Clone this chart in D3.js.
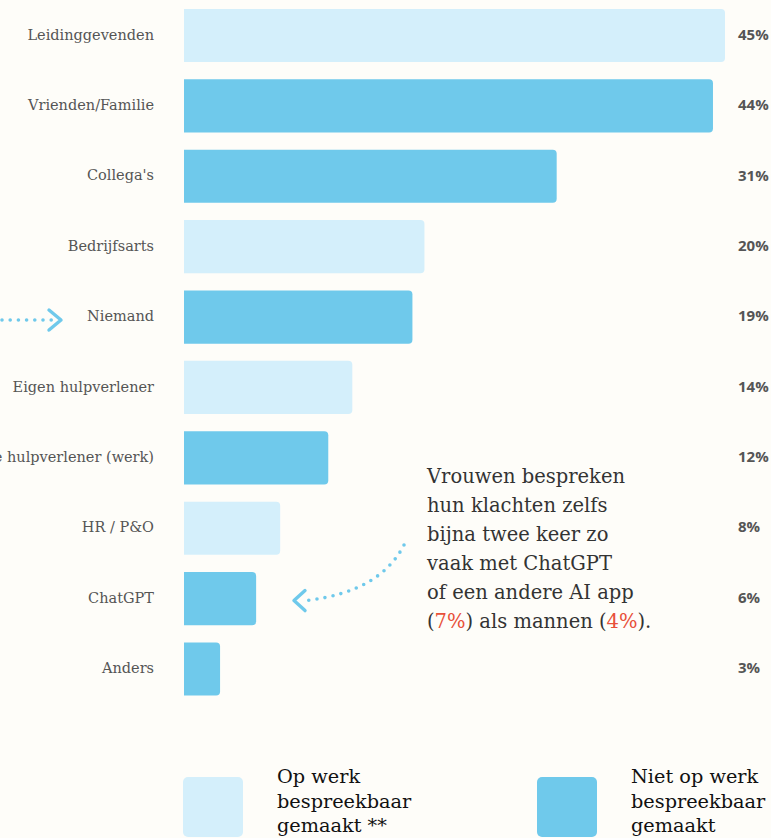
<!DOCTYPE html>
<html>
<head>
<meta charset="utf-8">
<script src="https://cdn.jsdelivr.net/npm/d3@7"></script>
<style>
  body { margin: 0; background: #fefdf9; }
  svg { display: block; }
  .label { font-family: "DejaVu Serif", serif; font-size: 14.5px; fill: #555; }
  .value { font-family: "Open Sans", sans-serif; font-weight: 700; font-size: 15px; fill: #555; }
  .note { font-family: "DejaVu Serif", serif; font-size: 19.5px; fill: #333; }
  .legend { font-family: "DejaVu Serif", serif; font-size: 19.3px; fill: #111; }
</style>
</head>
<body>
<div id="chart"></div>
<script>
// data
let categories = ['Leidinggevenden', 'Vrienden/Familie', "Collega's", 'Bedrijfsarts', 'Niemand',
    'Eigen hulpverlener', 'Externe hulpverlener (werk)', 'HR / P&O', 'ChatGPT', 'Anders'];
let values = [45, 44, 31, 20, 19, 14, 12, 8, 6, 3];
// true = op werk bespreekbaar gemaakt
let opWerk = [true, false, false, true, false, true, false, true, false, false];
let legendLabels = [['Op werk', 'bespreekbaar', 'gemaakt **'], ['Niet op werk', 'bespreekbaar', 'gemaakt']];
let noteLines = ['Vrouwen bespreken', 'hun klachten zelfs', 'bijna twee keer zo',
    'vaak met ChatGPT', 'of een andere AI app'];

let svgWidth = 771;
let svgHeight = 838;
let light = '#d4effb';
let dark = '#6fc9eb';
let red = '#e8503a';

let svg = d3.select('#chart').append('svg').attr('width', svgWidth).attr('height', svgHeight);

// scales
let x = d3.scaleLinear().domain([0, 45]).range([184, 725]);
let y = d3.scaleBand().domain(categories).range([0.5, 704]).paddingInner(0.245).paddingOuter(0.12);

// bars: square left edge, rounded right
function barPath(d, i) {
    let x0 = x(0), x1 = x(values[i]), y0 = y(d), h = y.bandwidth(), r = 4;
    return `M${x0},${y0}H${x1 - r}Q${x1},${y0} ${x1},${y0 + r}V${y0 + h - r}Q${x1},${y0 + h} ${x1 - r},${y0 + h}H${x0}Z`;
}

svg.selectAll('.bar')
    .data(categories)
    .enter()
    .append('path')
    .attr('class', 'bar')
    .attr('d', barPath)
    .attr('fill', (d, i) => opWerk[i] ? light : dark);

svg.selectAll('.label')
    .data(categories)
    .enter()
    .append('text')
    .attr('class', 'label')
    .attr('x', 154)
    .attr('y', d => y(d) + y.bandwidth() / 2 - 1)
    .attr('dy', '0.35em')
    .attr('text-anchor', 'end')
    .text(d => d);

svg.selectAll('.value')
    .data(categories)
    .enter()
    .append('text')
    .attr('class', 'value')
    .attr('x', 738)
    .attr('y', d => y(d) + y.bandwidth() / 2 - 1)
    .attr('dy', '0.35em')
    .text((d, i) => values[i] + '%');

// annotation text
let note = svg.append('text').attr('class', 'note');
noteLines.forEach((line, i) => {
    note.append('tspan').attr('x', 427).attr('y', 483 + i * 29).text(line);
});
let last = note.append('tspan').attr('x', 427).attr('y', 483 + 5 * 29);
last.append('tspan').text('(');
last.append('tspan').attr('fill', red).text('7%');
last.append('tspan').text(') als mannen (');
last.append('tspan').attr('fill', red).text('4%');
last.append('tspan').text(').');

// dotted arrows
let arrowGroup = svg.append('g')
    .attr('fill', 'none')
    .attr('stroke', dark)
    .attr('stroke-linecap', 'round')
    .attr('stroke-linejoin', 'round');

let yNiemand = y('Niemand') + y.bandwidth() / 2 + 3;
arrowGroup.append('path')
    .attr('d', `M2,${yNiemand}H52`)
    .attr('stroke-width', 3.6)
    .attr('stroke-dasharray', '0 8.2');
arrowGroup.append('path')
    .attr('d', `M49,${yNiemand - 10}L61,${yNiemand}L49,${yNiemand + 10}`)
    .attr('stroke-width', 3.4);

let yChat = y('ChatGPT') + y.bandwidth() / 2 + 2;
arrowGroup.append('path')
    .attr('d', `M404,545Q380,592 306,${yChat}`)
    .attr('stroke-width', 3.6)
    .attr('stroke-dasharray', '0 8.2');
arrowGroup.append('path')
    .attr('d', `M305,${yChat - 10}L294,${yChat}L305,${yChat + 10}`)
    .attr('stroke-width', 3.4);

// legend
let legendX = [183, 537];
legendLabels.forEach((lines, i) => {
    svg.append('rect')
        .attr('x', legendX[i])
        .attr('y', 777)
        .attr('width', 60)
        .attr('height', 60)
        .attr('rx', 5)
        .attr('fill', i === 0 ? light : dark);
    let t = svg.append('text').attr('class', 'legend');
    lines.forEach((line, j) => {
        t.append('tspan').attr('x', legendX[i] + 94).attr('y', 783 + j * 24.5).text(line);
    });
});
</script>
</body>
</html>
